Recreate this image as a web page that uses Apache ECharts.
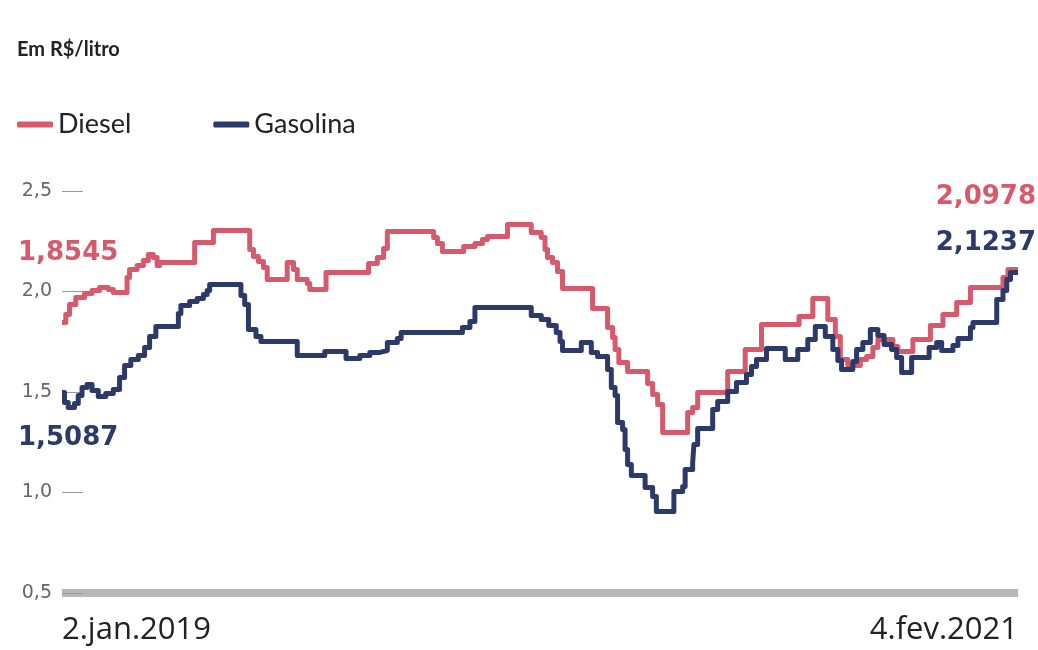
<!DOCTYPE html>
<html>
<head>
<meta charset="utf-8">
<script src="https://cdn.jsdelivr.net/npm/echarts@6/dist/echarts.min.js"></script>
<style>
  html, body { margin: 0; padding: 0; background: #fff; }
  #chart { width: 1038px; height: 650px; }
</style>
</head>
<body>
<div id="chart"></div>
<script>
// days since 2.jan.2019 where each step level begins, and the level (R$/litro)
const dieselDays = [0, 3, 6, 11, 18, 24, 30, 37, 41, 52, 54, 60, 65, 69, 73, 76, 78, 106, 121, 150, 153, 157, 161, 164, 180, 185, 188, 196, 198, 211, 245, 252, 257, 260, 297, 300, 304, 321, 330, 336, 340, 356, 375, 383, 386, 388, 392, 396, 400, 424, 436, 440, 442, 445, 452, 468, 472, 476, 480, 500, 504, 508, 532, 546, 559, 589, 600, 612, 618, 622, 628, 638, 643, 648, 652, 664, 668, 680, 694, 704, 715, 726, 752, 756, 764];
const dieselValues = [1.846, 1.886, 1.935, 1.970, 1.990, 2.005, 2.020, 2.010, 1.995, 2.070, 2.109, 2.129, 2.154, 2.184, 2.169, 2.129, 2.144, 2.244, 2.303, 2.209, 2.174, 2.149, 2.119, 2.060, 2.144, 2.109, 2.060, 2.040, 2.010, 2.095, 2.139, 2.169, 2.214, 2.299, 2.269, 2.239, 2.199, 2.224, 2.239, 2.259, 2.274, 2.333, 2.294, 2.269, 2.209, 2.169, 2.144, 2.100, 2.015, 1.915, 1.821, 1.771, 1.711, 1.647, 1.602, 1.542, 1.488, 1.438, 1.299, 1.398, 1.423, 1.498, 1.602, 1.711, 1.836, 1.876, 1.965, 1.861, 1.776, 1.662, 1.632, 1.662, 1.677, 1.721, 1.761, 1.726, 1.701, 1.761, 1.831, 1.886, 1.945, 2.020, 2.070, 2.109, 2.109];

const gasolinaDays = [0, 2, 5, 10, 13, 16, 20, 24, 29, 35, 41, 46, 50, 55, 61, 66, 70, 75, 93, 95, 102, 108, 113, 116, 118, 143, 146, 149, 155, 159, 188, 210, 227, 238, 246, 254, 260, 268, 271, 320, 326, 330, 375, 383, 389, 395, 398, 400, 415, 423, 428, 436, 439, 442, 444, 448, 450, 452, 455, 466, 472, 475, 489, 496, 498, 504, 505, 508, 520, 524, 532, 539, 547, 551, 555, 563, 578, 588, 596, 602, 610, 616, 620, 623, 632, 635, 640, 646, 652, 657, 663, 667, 671, 679, 693, 699, 703, 712, 716, 726, 728, 747, 752, 755, 758, 764];
const gasolinaValues = [1.498, 1.448, 1.423, 1.443, 1.483, 1.522, 1.537, 1.507, 1.478, 1.493, 1.512, 1.572, 1.632, 1.662, 1.682, 1.721, 1.776, 1.826, 1.891, 1.930, 1.950, 1.965, 1.985, 2.005, 2.035, 1.980, 1.935, 1.811, 1.776, 1.751, 1.682, 1.701, 1.667, 1.682, 1.697, 1.706, 1.746, 1.766, 1.796, 1.821, 1.851, 1.920, 1.881, 1.861, 1.831, 1.796, 1.751, 1.706, 1.746, 1.697, 1.677, 1.612, 1.522, 1.483, 1.348, 1.313, 1.214, 1.139, 1.085, 1.025, 0.980, 0.905, 1.005, 1.030, 1.114, 1.149, 1.239, 1.318, 1.413, 1.453, 1.502, 1.547, 1.587, 1.627, 1.662, 1.716, 1.662, 1.711, 1.761, 1.826, 1.776, 1.711, 1.657, 1.612, 1.652, 1.711, 1.746, 1.811, 1.781, 1.736, 1.711, 1.672, 1.597, 1.672, 1.721, 1.746, 1.706, 1.731, 1.766, 1.821, 1.846, 1.960, 2.005, 2.060, 2.095, 2.095];

const dateLabels = ["2.jan.2019", "4.fev.2021"];
const seriesNames = ["Diesel", "Gasolina"];
const startLabels = ["1,8545", "1,5087"];
const endLabels = ["2,0978", "2,1237"];

const RED = "#d65a6c";
const NAVY = "#2c3a6a";

const zip = (xs, ys) => xs.map((x, i) => [x, ys[i]]);

const chart = echarts.init(document.getElementById("chart"));

// bold value callouts beside the start and end of the lines
const callout = (text, color, pos) =>
  Object.assign({
    type: "text",
    style: { text, fill: color, font: 'bold 26px "DejaVu Sans"' },
  }, pos);

chart.setOption({
  animation: false,
  title: {
    text: "Em R$/litro",
    left: 12,
    top: 35,
    textStyle: { fontFamily: "Lato", fontSize: 20, fontWeight: "bold", color: "#222" },
  },
  legend: {
    data: seriesNames,
    left: 12,
    top: 106,
    icon: "roundRect",
    itemWidth: 36,
    itemHeight: 6,
    itemGap: 82,
    textStyle: { fontFamily: "Lato", fontSize: 27, color: "#222" },
  },
  grid: { left: 62, right: 20, top: 191, bottom: 57, containLabel: false },
  xAxis: {
    type: "value",
    min: 0,
    max: 764,
    interval: 764,
    axisLine: { show: true, lineStyle: { color: "#b8b8b4", width: 8, cap: "butt" } },
    axisTick: { show: false },
    splitLine: { show: false },
    axisLabel: {
      margin: 22,
      fontFamily: "Open Sans",
      fontSize: 31,
      color: "#222",
      alignMinLabel: "left",
      alignMaxLabel: "right",
      formatter: (v) => (v === 0 ? dateLabels[0] : dateLabels[1]),
    },
  },
  yAxis: {
    type: "value",
    min: 0.5,
    max: 2.5,
    interval: 0.5,
    axisLine: { show: false },
    axisTick: { show: true, inside: true, length: 21, lineStyle: { color: "#999", width: 1 } },
    splitLine: { show: false },
    axisLabel: {
      margin: 10,
      fontFamily: "DejaVu Sans",
      fontSize: 19,
      color: "#666",
      formatter: (v) => v.toFixed(1).replace(".", ","),
    },
  },
  series: [
    {
      name: seriesNames[0],
      type: "line",
      step: "end",
      showSymbol: false,
      color: RED,
      lineStyle: { width: 5, color: RED, join: "round" },
      data: zip(dieselDays, dieselValues),
    },
    {
      name: seriesNames[1],
      type: "line",
      step: "end",
      showSymbol: false,
      color: NAVY,
      lineStyle: { width: 5, color: NAVY, join: "round" },
      data: zip(gasolinaDays, gasolinaValues),
    },
  ],
  graphic: [
    callout(startLabels[0], RED, { left: 18, top: 240 }),
    callout(startLabels[1], NAVY, { left: 18, top: 425 }),
    callout(endLabels[0], RED, { right: 2, top: 184 }),
    callout(endLabels[1], NAVY, { right: 2, top: 230 }),
  ],
});
</script>
</body>
</html>
